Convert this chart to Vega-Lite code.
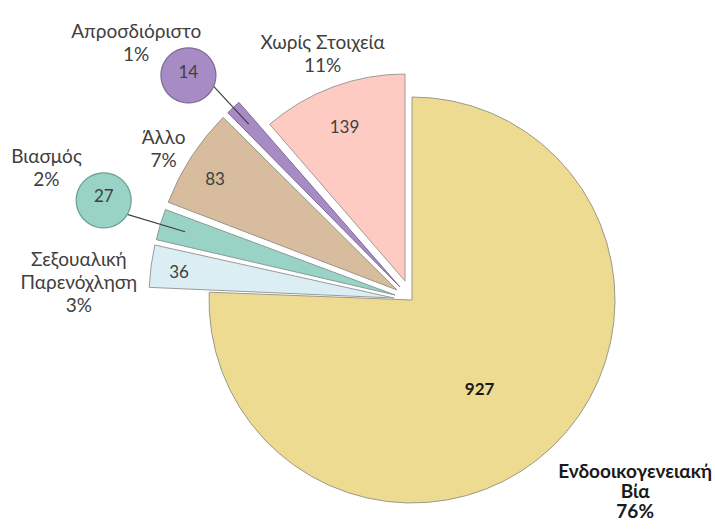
{
  "$schema": "https://vega.github.io/schema/vega-lite/v6.json",
  "width": 400,
  "height": 400,
  "autosize": {"type": "none"},
  "padding": {"left": 212, "top": 100, "right": 103, "bottom": 29},
  "background": "white",
  "config": {"view": {"stroke": null}, "text": {"font": "Lato", "fontSize": 19, "color": "#404040", "lineBreak": "\n", "lineHeight": 23}},
  "data": {
    "values": [
      {"category": "Ενδοοικογενειακή Βία", "value": 927},
      {"category": "Σεξουαλική Παρενόχληση", "value": 36},
      {"category": "Βιασμός", "value": 27},
      {"category": "Άλλο", "value": 83},
      {"category": "Απροσδιόριστο", "value": 14},
      {"category": "Χωρίς Στοιχεία", "value": 139}
    ]
  },
  "transform": [
    {"window": [{"op": "sum", "field": "value", "as": "cum"}], "frame": [null, 0]},
    {"joinaggregate": [{"op": "sum", "field": "value", "as": "total"}]},
    {"calculate": "(datum.cum - datum.value) / datum.total", "as": "s"},
    {"calculate": "datum.cum / datum.total", "as": "e"},
    {"calculate": "(datum.s + datum.e) / 2", "as": "m"},
    {"calculate": "(datum.category == 'Σεξουαλική Παρενόχληση' || datum.category == 'Ενδοοικογενειακή Βία' ? replace(datum.category, ' ', '\\n') : datum.category) + '\\n' + format(datum.value / datum.total, '.0%')", "as": "label"}
  ],
  "layer": [
    {
      "transform": [{"filter": "datum.category == 'Ενδοοικογενειακή Βία'"}],
      "mark": {"type": "arc", "radius": 203, "stroke": "#9a9a8a", "strokeWidth": 1},
      "encoding": {
        "theta": {"field": "s", "type": "quantitative", "scale": {"domain": [0, 1], "nice": false}},
        "theta2": {"field": "e"},
        "color": {"field": "category", "type": "nominal", "legend": null,
          "scale": {"domain": ["Ενδοοικογενειακή Βία", "Σεξουαλική Παρενόχληση", "Βιασμός", "Άλλο", "Απροσδιόριστο", "Χωρίς Στοιχεία"],
                    "range": ["#EEDB92", "#DBEEF3", "#98D3C5", "#D7BD9D", "#A68BC4", "#FDCBC2"]}}
      }
    },
    {
      "transform": [{"filter": "datum.category == 'Χωρίς Στοιχεία'"}],
      "mark": {"type": "arc", "radius": 207, "xOffset": -7, "yOffset": -19, "stroke": "#a09a9a", "strokeWidth": 1},
      "encoding": {
        "theta": {"field": "s", "type": "quantitative", "scale": {"domain": [0, 1], "nice": false}},
        "theta2": {"field": "e"},
        "color": {"field": "category", "type": "nominal", "legend": null}
      }
    },
    {
      "transform": [{"filter": "datum.category == 'Σεξουαλική Παρενόχληση'"}],
      "mark": {"type": "arc", "radius": 245, "xOffset": -18, "yOffset": -2, "padAngle": 0.01, "stroke": "#9a9a9a", "strokeWidth": 1},
      "encoding": {
        "theta": {"field": "s", "type": "quantitative", "scale": {"domain": [0, 1], "nice": false}},
        "theta2": {"field": "e"},
        "color": {"field": "category", "type": "nominal", "legend": null}
      }
    },
    {
      "transform": [{"filter": "datum.category == 'Βιασμός'"}],
      "mark": {"type": "arc", "radius": 245, "xOffset": -17, "yOffset": -5, "padAngle": 0.01, "stroke": "#8a9a96", "strokeWidth": 1},
      "encoding": {
        "theta": {"field": "s", "type": "quantitative", "scale": {"domain": [0, 1], "nice": false}},
        "theta2": {"field": "e"},
        "color": {"field": "category", "type": "nominal", "legend": null}
      }
    },
    {
      "transform": [{"filter": "datum.category == 'Άλλο'"}],
      "mark": {"type": "arc", "radius": 245, "xOffset": -15, "yOffset": -10, "padAngle": 0.01, "stroke": "#9a958d", "strokeWidth": 1},
      "encoding": {
        "theta": {"field": "s", "type": "quantitative", "scale": {"domain": [0, 1], "nice": false}},
        "theta2": {"field": "e"},
        "color": {"field": "category", "type": "nominal", "legend": null}
      }
    },
    {
      "transform": [{"filter": "datum.category == 'Απροσδιόριστο'"}],
      "mark": {"type": "arc", "radius": 245, "xOffset": -12, "yOffset": -13, "padAngle": 0.01, "stroke": "#7e6c94", "strokeWidth": 1},
      "encoding": {
        "theta": {"field": "s", "type": "quantitative", "scale": {"domain": [0, 1], "nice": false}},
        "theta2": {"field": "e"},
        "color": {"field": "category", "type": "nominal", "legend": null}
      }
    },
    {
      "transform": [{"filter": "datum.category == 'Απροσδιόριστο'"}],
      "mark": {"type": "arc", "radius": 300, "radius2": 240, "stroke": "#404040", "strokeWidth": 1.2, "fill": null},
      "encoding": {
        "theta": {"field": "m", "type": "quantitative", "scale": {"domain": [0, 1], "nice": false}},
        "theta2": {"field": "m"}
      }
    },
    {
      "transform": [{"filter": "datum.category == 'Βιασμός'"}],
      "mark": {"type": "arc", "radius": 300, "radius2": 237, "stroke": "#404040", "strokeWidth": 1.2, "fill": null},
      "encoding": {
        "theta": {"field": "m", "type": "quantitative", "scale": {"domain": [0, 1], "nice": false}},
        "theta2": {"field": "m"}
      }
    },
    {
      "transform": [{"filter": "datum.category == 'Απροσδιόριστο'"}],
      "mark": {"type": "text", "text": "●", "font": "DejaVu Sans", "fontSize": 72, "radius": 320, "dx": -6, "dy": 7, "baseline": "middle", "align": "center", "stroke": "#7e6c94", "strokeWidth": 1.2},
      "encoding": {
        "theta": {"field": "m", "type": "quantitative", "scale": {"domain": [0, 1], "nice": false}},
        "color": {"field": "category", "type": "nominal", "legend": null}
      }
    },
    {
      "transform": [{"filter": "datum.category == 'Βιασμός'"}],
      "mark": {"type": "text", "text": "●", "font": "DejaVu Sans", "fontSize": 72, "radius": 325, "dx": 3, "dy": -9, "baseline": "middle", "align": "center", "stroke": "#6f9f94", "strokeWidth": 1.2},
      "encoding": {
        "theta": {"field": "m", "type": "quantitative", "scale": {"domain": [0, 1], "nice": false}},
        "color": {"field": "category", "type": "nominal", "legend": null}
      }
    },
    {
      "transform": [{"filter": "datum.category == 'Απροσδιόριστο'"}],
      "mark": {"type": "text", "radius": 320, "dx": -6, "dy": 8, "baseline": "middle", "align": "center", "fontSize": 17},
      "encoding": {
        "theta": {"field": "m", "type": "quantitative", "scale": {"domain": [0, 1], "nice": false}},
        "text": {"field": "value", "type": "quantitative"}
      }
    },
    {
      "transform": [{"filter": "datum.category == 'Βιασμός'"}],
      "mark": {"type": "text", "radius": 325, "dx": 3, "dy": -9, "baseline": "middle", "align": "center", "fontSize": 17},
      "encoding": {
        "theta": {"field": "m", "type": "quantitative", "scale": {"domain": [0, 1], "nice": false}},
        "text": {"field": "value", "type": "quantitative"}
      }
    },
    {
      "transform": [{"filter": "datum.category == 'Ενδοοικογενειακή Βία'"}],
      "mark": {"type": "text", "radius": 112, "dx": -10, "dy": 9, "baseline": "middle", "align": "center", "fontSize": 17, "fontWeight": "bold", "color": "#1a1a1a"},
      "encoding": {
        "theta": {"field": "m", "type": "quantitative", "scale": {"domain": [0, 1], "nice": false}},
        "text": {"field": "value", "type": "quantitative"}
      }
    },
    {
      "transform": [{"filter": "datum.category == 'Χωρίς Στοιχεία'"}],
      "mark": {"type": "text", "radius": 185, "dx": -3, "dy": 1, "baseline": "middle", "align": "center", "fontSize": 17},
      "encoding": {
        "theta": {"field": "m", "type": "quantitative", "scale": {"domain": [0, 1], "nice": false}},
        "text": {"field": "value", "type": "quantitative"}
      }
    },
    {
      "transform": [{"filter": "datum.category == 'Άλλο'"}],
      "mark": {"type": "text", "radius": 231, "dx": -3, "dy": 5, "baseline": "middle", "align": "center", "fontSize": 17},
      "encoding": {
        "theta": {"field": "m", "type": "quantitative", "scale": {"domain": [0, 1], "nice": false}},
        "text": {"field": "value", "type": "quantitative"}
      }
    },
    {
      "transform": [{"filter": "datum.category == 'Σεξουαλική Παρενόχληση'"}],
      "mark": {"type": "text", "radius": 235, "dx": 0, "dy": 4, "baseline": "middle", "align": "center", "fontSize": 17},
      "encoding": {
        "theta": {"field": "m", "type": "quantitative", "scale": {"domain": [0, 1], "nice": false}},
        "text": {"field": "value", "type": "quantitative"}
      }
    },
    {
      "transform": [{"filter": "datum.category == 'Ενδοοικογενειακή Βία'"}],
      "mark": {"type": "text", "radius": 293, "dx": 20, "dy": -39, "baseline": "middle", "align": "center", "fontWeight": "bold", "color": "#1a1a1a", "lineHeight": 20},
      "encoding": {
        "theta": {"field": "m", "type": "quantitative", "scale": {"domain": [0, 1], "nice": false}},
        "text": {"field": "label", "type": "nominal"}
      }
    },
    {
      "transform": [{"filter": "datum.category == 'Σεξουαλική Παρενόχληση'"}],
      "mark": {"type": "text", "radius": 333, "dx": -3, "dy": 3, "baseline": "middle", "align": "center"},
      "encoding": {
        "theta": {"field": "m", "type": "quantitative", "scale": {"domain": [0, 1], "nice": false}},
        "text": {"field": "label", "type": "nominal"}
      }
    },
    {
      "transform": [{"filter": "datum.category == 'Βιασμός'"}],
      "mark": {"type": "text", "radius": 388, "dx": 6, "dy": -31, "baseline": "middle", "align": "center"},
      "encoding": {
        "theta": {"field": "m", "type": "quantitative", "scale": {"domain": [0, 1], "nice": false}},
        "text": {"field": "label", "type": "nominal"}
      }
    },
    {
      "transform": [{"filter": "datum.category == 'Άλλο'"}],
      "mark": {"type": "text", "radius": 291, "dx": -4, "dy": -4, "baseline": "middle", "align": "center"},
      "encoding": {
        "theta": {"field": "m", "type": "quantitative", "scale": {"domain": [0, 1], "nice": false}},
        "text": {"field": "label", "type": "nominal"}
      }
    },
    {
      "transform": [{"filter": "datum.category == 'Απροσδιόριστο'"}],
      "mark": {"type": "text", "radius": 376, "dx": -20, "dy": 8, "baseline": "middle", "align": "center"},
      "encoding": {
        "theta": {"field": "m", "type": "quantitative", "scale": {"domain": [0, 1], "nice": false}},
        "text": {"field": "label", "type": "nominal"}
      }
    },
    {
      "transform": [{"filter": "datum.category == 'Χωρίς Στοιχεία'"}],
      "mark": {"type": "text", "radius": 262, "dx": 2, "dy": -11, "baseline": "middle", "align": "center"},
      "encoding": {
        "theta": {"field": "m", "type": "quantitative", "scale": {"domain": [0, 1], "nice": false}},
        "text": {"field": "label", "type": "nominal"}
      }
    }
  ]
}
